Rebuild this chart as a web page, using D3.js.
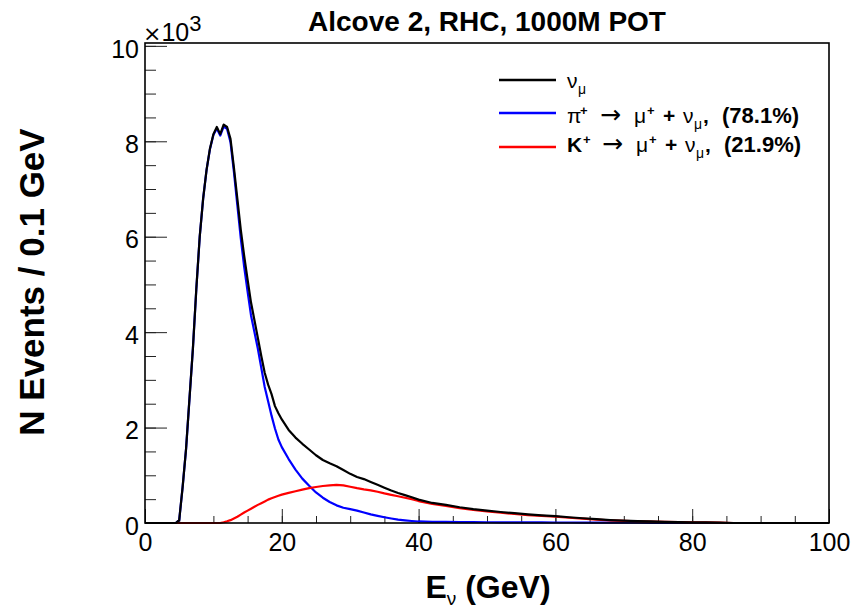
<!DOCTYPE html>
<html>
<head>
<meta charset="utf-8">
<script src="https://cdn.jsdelivr.net/npm/d3@7"></script>
<style>
  body { margin: 0; background: white; }
  text { font-family: "Liberation Sans", Arial, Helvetica, sans-serif; }
</style>
</head>
<body>
<script>
let energy = [0, 4.5, 5, 5.5, 6, 6.5, 7, 7.5, 8, 8.5, 9, 9.5, 10, 10.5, 11, 11.5, 12, 12.5, 13, 13.5,
  14, 14.5, 15, 15.5, 16, 16.5, 17, 17.5, 18, 18.5, 19, 19.5, 20, 21, 22, 23, 24, 25, 26, 27, 28, 29,
  30, 31, 32, 33, 34, 35, 36, 37, 38, 39, 40, 42, 44, 46, 48, 50, 52, 54, 56, 58, 60, 62, 64, 66, 68,
  70, 72, 74, 76, 78, 80, 82, 84, 86, 100]
// events per 0.1 GeV
let numu = [0, 0, 60, 750, 1550, 2600, 3650, 4900, 6000, 6800, 7400, 7850, 8150, 8300, 8150, 8350, 8300, 8050, 7450, 6800,
  6150, 5600, 5100, 4620, 4250, 3880, 3500, 3150, 2900, 2700, 2450, 2300, 2170, 1950, 1790, 1660, 1540, 1420, 1320, 1250, 1190, 1110,
  1030, 965, 920, 860, 800, 740, 680, 630, 585, 540, 490, 420, 380, 330, 290, 260, 230, 205, 180, 160, 145, 120, 100, 80, 62,
  50, 40, 32, 25, 20, 15, 12, 8, 0, 0]
let piPlus = [0, 0, 60, 750, 1550, 2600, 3650, 4900, 6000, 6800, 7400, 7840, 8130, 8270, 8120, 8310, 8260, 7980, 7360, 6660,
  5970, 5370, 4850, 4350, 4000, 3650, 3250, 2850, 2550, 2250, 1980, 1750, 1590, 1340, 1120, 930, 780, 640, 530, 440, 370, 320,
  290, 260, 220, 180, 150, 120, 95, 70, 55, 42, 32, 25, 22, 20, 18, 16, 15, 14, 13, 12, 11, 10, 9, 8, 7,
  6, 5, 4, 3, 2, 0, 0, 0, 0, 0]
let kPlus = [0, 0, 0, 0, 0, 0, 0, 0, 0, 0, 0, 0, 0, 0, 0, 15, 35, 60, 95, 130,
  175, 220, 260, 300, 340, 380, 415, 450, 490, 520, 545, 570, 595, 630, 665, 700, 730, 755, 775, 790, 800, 790,
  760, 730, 705, 685, 655, 620, 590, 560, 530, 500, 460, 400, 358, 310, 272, 244, 215, 191, 167, 148, 134, 110, 91, 72, 55,
  44, 35, 28, 22, 18, 15, 12, 8, 0, 0]

let xTicks = [0, 20, 40, 60, 80, 100]
let yTicks = [0, 2000, 4000, 6000, 8000, 10000]
let legendNames = ['numu', 'pi', 'k']
let legendPercent = {pi: '(78.1%)', k: '(21.9%)'}

let width = 858
let height = 610
let plotLeft = 145, plotRight = 829, plotTop = 43, plotBottom = 523
let fontFamily = '"Liberation Sans", Arial, Helvetica, sans-serif'
let arrowFont = '"DejaVu Sans", sans-serif'

let x = d3.scaleLinear().domain([0, 100]).range([plotLeft, plotRight])
let y = d3.scaleLinear().domain([0, 10060]).range([plotBottom, plotTop])

let svg = d3.select('body')
  .append('svg')
  .attr('width', width)
  .attr('height', height)

svg.append('rect')
  .attr('width', width)
  .attr('height', height)
  .attr('fill', 'white')

// minor ticks first, major on top
svg.append('g')
  .attr('transform', `translate(${plotLeft},0)`)
  .call(d3.axisLeft(y).tickValues(d3.range(0, 10001, 500)).tickSize(-11).tickSizeOuter(0).tickFormat(''))
svg.append('g')
  .attr('class', 'yaxis')
  .attr('transform', `translate(${plotLeft},0)`)
  .call(d3.axisLeft(y).tickValues(yTicks).tickSize(-22).tickSizeOuter(0).tickPadding(6)
    .tickFormat(d => d / 1000))
svg.append('g')
  .attr('transform', `translate(0,${plotBottom})`)
  .call(d3.axisBottom(x).tickValues(d3.range(0, 101, 5)).tickSize(-7).tickSizeOuter(0).tickFormat(''))
svg.append('g')
  .attr('class', 'xaxis')
  .attr('transform', `translate(0,${plotBottom})`)
  .call(d3.axisBottom(x).tickValues(xTicks).tickSize(-14).tickSizeOuter(0).tickPadding(10))

svg.selectAll('.domain').remove()
svg.selectAll('.tick line').attr('stroke', '#222').attr('stroke-width', 1)
svg.selectAll('.yaxis text')
  .attr('font-size', 25)
  .attr('font-family', fontFamily)
  .attr('fill', 'black')
  .attr('dy', '0.45em')
svg.selectAll('.xaxis text')
  .attr('font-size', 25)
  .attr('font-family', fontFamily)
  .attr('fill', 'black')

// histograms
let line = series => d3.line()
  .x((d, i) => x(energy[i]))
  .y(d => y(d))(series)

let curves = [
  {values: piPlus, color: '#0000ff'},
  {values: kPlus, color: '#ff0000'},
  {values: numu, color: '#000000'}
]
svg.selectAll('path.curve')
  .data(curves)
  .enter()
  .append('path')
  .attr('class', 'curve')
  .attr('d', d => line(d.values))
  .attr('fill', 'none')
  .attr('stroke', d => d.color)
  .attr('stroke-width', 2.2)
  .attr('stroke-linejoin', 'round')

// frame
svg.append('rect')
  .attr('x', plotLeft)
  .attr('y', plotTop)
  .attr('width', plotRight - plotLeft)
  .attr('height', plotBottom - plotTop)
  .attr('fill', 'none')
  .attr('stroke', 'black')
  .attr('stroke-width', 1.6)

// exponent
let expo = svg.append('text')
  .attr('x', 143)
  .attr('y', 41)
  .attr('font-size', 25)
expo.append('tspan').attr('font-family', arrowFont).attr('font-size', 22).text('\u00d7')
expo.append('tspan').text('10')
expo.append('tspan')
  .attr('font-size', 22)
  .attr('dy', -10)
  .text('3')

// title
svg.append('text')
  .attr('x', 487)
  .attr('y', 31)
  .attr('text-anchor', 'middle')
  .attr('font-size', 28)
  .attr('font-weight', 'bold')
  .text('Alcove 2, RHC, 1000M POT')

// axis titles
let xt = svg.append('text')
  .attr('x', 488)
  .attr('y', 598)
  .attr('text-anchor', 'middle')
  .attr('font-size', 32)
  .attr('font-weight', 'bold')
xt.append('tspan').text('E')
xt.append('tspan').attr('font-size', 19).attr('font-weight', 'normal').attr('dy', 7).text('\u03bd')
xt.append('tspan').attr('dy', -7).text(' (GeV)')

svg.append('text')
  .attr('transform', 'translate(44,282) rotate(-90)')
  .attr('text-anchor', 'middle')
  .attr('font-size', 35)
  .attr('font-weight', 'bold')
  .text('N Events / 0.1 GeV')

// legend
let legendColors = ['#000000', '#0000ff', '#ff0000']
let legendLineY = [80, 113, 147]
let legendTextY = [88, 123, 152]
let legend = svg.selectAll('g.legend')
  .data(legendNames)
  .enter()
  .append('g')
  .attr('class', 'legend')
legend.append('line')
  .attr('x1', 499)
  .attr('x2', 556)
  .attr('y1', (d, i) => legendLineY[i])
  .attr('y2', (d, i) => legendLineY[i])
  .attr('stroke', (d, i) => legendColors[i])
  .attr('stroke-width', 2.6)

// pieces of each legend entry: text, weight, baseline shift, size, x offset, font
function decay(first, firstWeight, supX, percent, shift) {
  return [
    [first, firstWeight, 0, 21, 0],
    ['+', 'bold', -8, 13, supX],
    ['\u2192', 'normal', 0, 25, 33 + shift, arrowFont],
    ['\u03bc', 'normal', 0, 21, 67 + shift],
    ['+', 'bold', -8, 13, 80 + shift],
    ['+', 'bold', 0, 21, 96 + shift],
    ['\u03bd', 'normal', 0, 21, 116 + shift],
    ['\u03bc', 'normal', 6, 14, 127 + shift],
    [',', 'bold', 0, 21, 136 + shift],
    [percent, 'bold', 0, 22, 155 + shift]
  ]
}
let parts = {
  numu: [['\u03bd', 'normal', 0, 21, 0], ['\u03bc', 'normal', 6, 14, 11]],
  pi: decay('\u03c0', 'normal', 13, legendPercent.pi, 0),
  k: decay('K', 'bold', 16, legendPercent.k, 2)
}
legend.append('text')
  .attr('y', (d, i) => legendTextY[i])
  .each(function(d, i) {
    let t = d3.select(this)
    parts[d].forEach(p => {
      t.append('tspan')
        .attr('x', 567 + p[4])
        .attr('y', legendTextY[i] + p[2])
        .attr('font-weight', p[1])
        .attr('font-size', p[3])
        .attr('font-family', p[5] || fontFamily)
        .text(p[0])
    })
  })
</script>
</body>
</html>
